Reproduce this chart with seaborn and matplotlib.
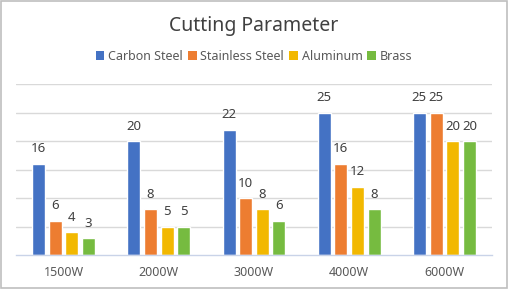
import matplotlib
matplotlib.use("Agg")
import matplotlib.pyplot as plt
import pandas as pd
import seaborn as sns
from matplotlib.patches import Patch, Rectangle
from matplotlib.ticker import FixedLocator

powers = ["1500W", "2000W", "3000W", "4000W", "6000W"]
materials = ["Carbon Steel", "Stainless Steel", "Aluminum", "Brass"]
carbon_steel = [16, 20, 22, 25, 25]
stainless_steel = [6, 8, 10, 16, 25]
aluminum = [4, 5, 8, 12, 20]
brass = [3, 5, 6, 8, 20]
colors = ["#4472C4", "#ED7D31", "#F2B800", "#76BB40"]

series = [carbon_steel, stainless_steel, aluminum, brass]
rows = []
for name, vals in zip(materials, series):
    for p, v in zip(powers, vals):
        rows.append({"power": p, "material": name, "value": v})
df = pd.DataFrame(rows)

sns.set_theme(style="white")
plt.rcParams["font.family"] = ["Noto Sans", "DejaVu Sans"]

text_dark = "#404040"
text_mid = "#595959"

fig = plt.figure(figsize=(5.08, 2.89), dpi=100)
ax = fig.add_axes([0.0315, 0.1176, 0.937, 0.5917])

sns.barplot(
    data=df, x="power", y="value", hue="material", palette=colors,
    width=0.70, gap=0.22, saturation=1, errorbar=None, legend=False, ax=ax,
)

for cont in ax.containers:
    ax.bar_label(cont, fmt="%d", padding=6, fontsize=9.5, color=text_dark)

ax.set_ylim(0, 30)
ax.set_xlim(-0.5, len(powers) - 0.5)
ax.set_yticks([5, 10, 15, 20, 25, 30])
ax.yaxis.grid(True, color="#D9D9D9", linewidth=1)
ax.set_axisbelow(True)
ax.tick_params(axis="y", left=False, labelleft=False)
ax.tick_params(axis="x", which="major", length=0, labelsize=9, labelcolor=text_mid, pad=8)
ax.xaxis.set_minor_locator(FixedLocator([i - 0.5 for i in range(len(powers) + 1)]))
ax.tick_params(axis="x", which="minor", length=4, color="#C9D3E8", width=1)
ax.set_xlabel("")
ax.set_ylabel("")
for side in ["top", "right", "left"]:
    ax.spines[side].set_visible(False)
ax.spines["bottom"].set_color("#C9D3E8")
ax.spines["bottom"].set_linewidth(1)

fig.text(0.5, 0.91, "Cutting Parameter", ha="center", va="center",
         fontsize=14, color=text_dark)

handles = [Patch(facecolor=c, edgecolor="none") for c in colors]
fig.legend(handles, materials, loc="center", bbox_to_anchor=(0.5, 0.805),
           ncol=4, frameon=False, fontsize=9, labelcolor=text_mid,
           handlelength=0.7, handleheight=0.7, handletextpad=0.3,
           columnspacing=0.4, borderaxespad=0)

fig.patches.append(Rectangle((0.001, 0.002), 0.997, 0.996, transform=fig.transFigure,
                             fill=False, edgecolor="#BFBFBF", linewidth=1.2))

fig.savefig("out.png", dpi=100)
